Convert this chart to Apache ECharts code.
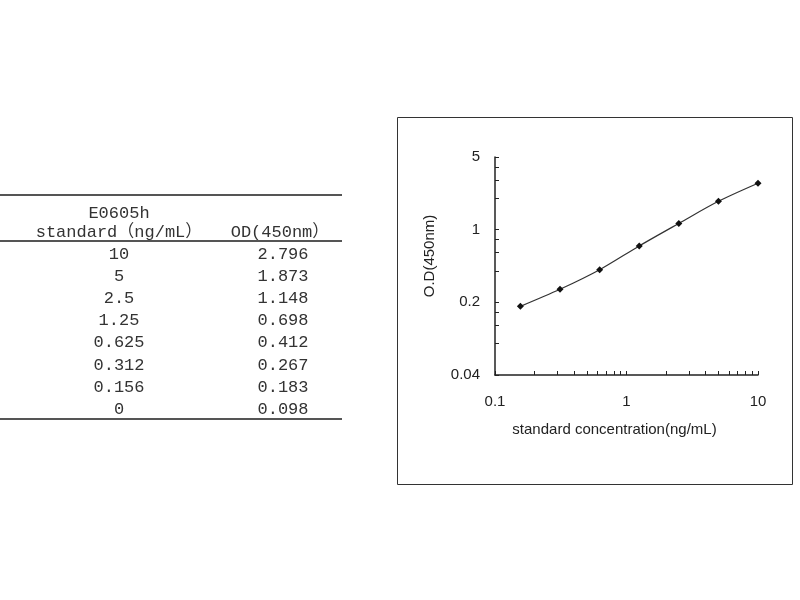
<!DOCTYPE html>
<html><head><meta charset="utf-8">
<script src="https://cdn.jsdelivr.net/npm/echarts@6/dist/echarts.min.js"></script>
<style>html,body{margin:0;padding:0;background:#fff}#c{width:800px;height:600px}</style>
</head><body><div id="c"></div>
<script>
const tableTitle = 'E0605h';
const colHeaders = ['standard（ng/mL）', 'OD(450nm）'];
const standardLabels = ['10', '5', '2.5', '1.25', '0.625', '0.312', '0.156', '0'];
const standards = [10, 5, 2.5, 1.25, 0.625, 0.312, 0.156, 0];
const odLabels = ['2.796', '1.873', '1.148', '0.698', '0.412', '0.267', '0.183', '0.098'];
const odValues = [2.796, 1.873, 1.148, 0.698, 0.412, 0.267, 0.183, 0.098];
const xTickLabels = [0.1, 1, 10];
const yTickLabels = [0.04, 0.2, 1, 5];
const xTicks = [0.1, 0.2, 0.3, 0.4, 0.5, 0.6, 0.7, 0.8, 0.9, 1, 2, 3, 4, 5, 6, 7, 8, 9, 10];
const yTicks = [0.04, 0.08, 0.12, 0.16, 0.2, 0.4, 0.6, 0.8, 1, 2, 3, 4, 5];
const xName = 'standard concentration(ng/mL)';
const yName = 'O.D(450nm)';

const chart = echarts.init(document.getElementById('c'));

const tableFont = '17px "Liberation Mono", "Noto Sans CJK SC", monospace';
const textColor = '#333';
const col1X = 119, col2X = 283;
const rowY0 = 254, rowStep = 22.2;
const graphics = [];
function addText(x, y, s) {
  graphics.push({ type: 'text', x: x, y: y, style: { text: s, font: tableFont, fill: textColor, align: 'center', verticalAlign: 'middle' } });
}
function addRule(y) {
  graphics.push({ type: 'line', shape: { x1: 0, y1: y, x2: 342, y2: y }, style: { stroke: '#555', lineWidth: 2 } });
}
addRule(195);
addRule(241);
addRule(419);
addText(col1X, 213, tableTitle);
addText(col1X, 232, colHeaders[0]);
addText(280, 232, colHeaders[1]);
standardLabels.forEach((s, i) => {
  addText(col1X, rowY0 + i * rowStep, s);
  addText(col2X, rowY0 + i * rowStep, odLabels[i]);
});
graphics.push({ type: 'rect', shape: { x: 397.5, y: 117.5, width: 395, height: 367 }, style: { fill: 'none', stroke: '#333', lineWidth: 1 } });

const points = [];
standards.forEach((x, i) => { if (x > 0) points.push([x, odValues[i]]); });

const fmt = v => String(+Number(v).toPrecision(4));

chart.setOption({
  animation: false,
  backgroundColor: '#fff',
  graphic: graphics,
  grid: { left: 495, top: 157, right: 42, bottom: 225, containLabel: false },
  xAxis: {
    type: 'log', logBase: 10, min: 0.1, max: 10,
    name: xName, nameLocation: 'middle', nameGap: 47,
    nameTextStyle: { fontFamily: 'Liberation Sans, Arial, sans-serif', fontSize: 15, color: '#222', padding: [0, 24, 0, 0] },
    axisLine: { show: true, onZero: false, lineStyle: { color: '#222', width: 1.5 } },
    axisTick: { show: true, inside: true, length: 4, customValues: xTicks, lineStyle: { color: '#222', width: 1 } },
    axisLabel: { customValues: xTickLabels, formatter: fmt, margin: 19, fontFamily: 'Liberation Sans, Arial, sans-serif', fontSize: 15, color: '#222' },
    splitLine: { show: false }
  },
  yAxis: {
    type: 'log', logBase: 5, min: 0.04, max: 5,
    name: yName, nameLocation: 'middle', nameGap: 58, nameRotate: 90,
    nameTextStyle: { fontFamily: 'Liberation Sans, Arial, sans-serif', fontSize: 15, color: '#222', padding: [0, 0, 0, 20] },
    axisLine: { show: true, lineStyle: { color: '#222', width: 1.5 } },
    axisTick: { show: true, inside: true, length: 4, customValues: yTicks, lineStyle: { color: '#222', width: 1 } },
    axisLabel: { customValues: yTickLabels, formatter: fmt, margin: 15, fontFamily: 'Liberation Sans, Arial, sans-serif', fontSize: 15, color: '#222' },
    splitLine: { show: false }
  },
  series: [{
    type: 'line',
    data: points,
    smooth: 0.3,
    symbol: 'diamond',
    symbolSize: 7,
    itemStyle: { color: '#111' },
    lineStyle: { color: '#333', width: 1.2 }
  }]
});
</script></body></html>
